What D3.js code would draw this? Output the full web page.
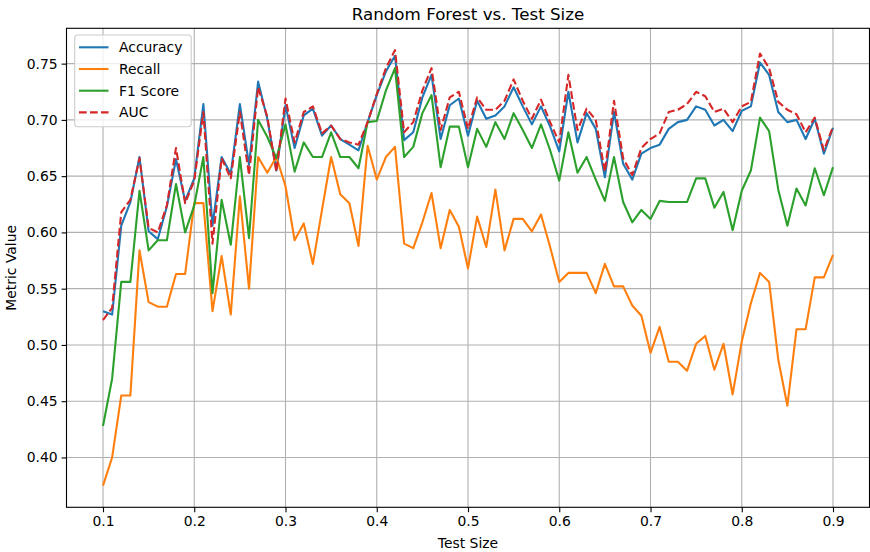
<!DOCTYPE html>
<html>
<head>
<meta charset="utf-8">
<script src="https://cdn.jsdelivr.net/npm/d3@7"></script>
<style>
  body { margin: 0; background: #fff; }
  text { font-family: "DejaVu Sans", sans-serif; fill: #000; }
</style>
</head>
<body>
<div id="chart"></div>
<script>
// test sizes 0.10 .. 0.90, step 0.01
const testSizes = d3.range(81).map(i => +(0.10 + i * 0.01).toFixed(2))

const accuracy = [
  0.530,0.527,0.606,0.627,0.667,0.601,0.594,0.623,0.665,0.628,
  0.648,0.714,0.606,0.667,0.652,0.714,0.660,0.734,0.701,0.655,
  0.713,0.675,0.704,0.710,0.686,0.695,0.683,0.678,0.673,0.698,
  0.722,0.743,0.757,0.682,0.689,0.720,0.740,0.683,0.713,0.719,
  0.686,0.717,0.701,0.704,0.712,0.729,0.712,0.696,0.712,0.694,
  0.672,0.725,0.680,0.706,0.692,0.649,0.707,0.661,0.647,0.670,
  0.675,0.678,0.692,0.698,0.700,0.712,0.709,0.695,0.700,0.690,
  0.708,0.712,0.751,0.740,0.707,0.698,0.700,0.683,0.701,0.670,
  0.693
]
const recall = [
  0.375,0.400,0.455,0.455,0.584,0.538,0.534,0.534,0.563,0.563,
  0.626,0.626,0.530,0.579,0.527,0.632,0.550,0.667,0.653,0.667,
  0.641,0.593,0.608,0.572,0.620,0.667,0.634,0.626,0.588,0.677,
  0.647,0.667,0.676,0.590,0.586,0.609,0.635,0.586,0.620,0.605,
  0.568,0.614,0.587,0.638,0.584,0.612,0.612,0.601,0.616,0.587,
  0.556,0.564,0.564,0.564,0.546,0.572,0.552,0.552,0.535,0.526,
  0.493,0.516,0.485,0.485,0.477,0.501,0.508,0.478,0.501,0.456,
  0.503,0.537,0.564,0.556,0.487,0.446,0.514,0.514,0.560,0.560,
  0.580
]
const f1 = [
  0.428,0.470,0.556,0.556,0.637,0.584,0.593,0.593,0.643,0.600,
  0.624,0.667,0.546,0.629,0.589,0.667,0.595,0.700,0.685,0.666,
  0.696,0.654,0.680,0.667,0.667,0.689,0.667,0.667,0.657,0.698,
  0.699,0.726,0.746,0.667,0.676,0.706,0.722,0.658,0.694,0.694,
  0.658,0.692,0.676,0.698,0.683,0.706,0.691,0.675,0.696,0.673,
  0.646,0.689,0.653,0.667,0.647,0.628,0.667,0.627,0.609,0.620,
  0.612,0.628,0.627,0.627,0.627,0.648,0.648,0.622,0.636,0.602,
  0.637,0.655,0.702,0.690,0.638,0.606,0.639,0.624,0.657,0.633,
  0.658
]
const auc = [
  0.522,0.533,0.618,0.629,0.666,0.604,0.600,0.624,0.675,0.626,
  0.646,0.707,0.590,0.666,0.648,0.707,0.651,0.729,0.703,0.654,
  0.719,0.680,0.707,0.712,0.688,0.695,0.683,0.680,0.678,0.698,
  0.723,0.746,0.762,0.689,0.698,0.726,0.746,0.691,0.720,0.725,
  0.692,0.720,0.709,0.709,0.717,0.736,0.717,0.701,0.718,0.698,
  0.680,0.740,0.691,0.710,0.700,0.654,0.717,0.666,0.651,0.675,
  0.683,0.688,0.707,0.709,0.714,0.725,0.721,0.707,0.710,0.698,
  0.712,0.716,0.759,0.746,0.716,0.709,0.705,0.689,0.702,0.673,
  0.694
]

const xTicks = [0.1,0.2,0.3,0.4,0.5,0.6,0.7,0.8,0.9]
const yTicks = [0.40,0.45,0.50,0.55,0.60,0.65,0.70,0.75]

const series = [
  {name:'Accuracy', values:accuracy, color:'#1f77b4', dash:null},
  {name:'Recall', values:recall, color:'#ff7f0e', dash:null},
  {name:'F1 Score', values:f1, color:'#2ca02c', dash:null},
  {name:'AUC', values:auc, color:'#d62728', dash:'7.7,3.3'}
]

init()

function init(){
    const W = 870, H = 552
    const left = 66.5, right = 869.5, top = 28.3, bottom = 507.3

    let svg = d3.select('#chart')
                .append('svg')
                .attr('width',W)
                .attr('height',H)

    const x = d3.scaleLinear().domain([0.06,0.94]).range([left,right])
    const y = d3.scaleLinear().domain([0.3557,0.7814]).range([bottom,top])

    // grid
    let grid = svg.append('g')
    grid.selectAll('line.vx').data(xTicks).enter().append('line')
        .attr('x1',d=>x(d)).attr('x2',d=>x(d))
        .attr('y1',top).attr('y2',bottom)
        .style('stroke','#b0b0b0').style('stroke-width',1.1)
    grid.selectAll('line.hy').data(yTicks).enter().append('line')
        .attr('x1',left).attr('x2',right)
        .attr('y1',d=>y(d)).attr('y2',d=>y(d))
        .style('stroke','#b0b0b0').style('stroke-width',1.1)

    // lines
    const line = d3.line()
        .x((d,i)=>x(testSizes[i]))
        .y(d=>y(d))

    series.forEach(s=>{
        svg.append('path')
            .datum(s.values)
            .attr('d',line)
            .style('fill','none')
            .style('stroke',s.color)
            .style('stroke-width',2.1)
            .style('stroke-linejoin','round')
            .style('stroke-dasharray',s.dash)
    })

    // axes
    let xAxis = svg.append('g')
        .attr('transform',`translate(0,${bottom})`)
        .call(d3.axisBottom(x).tickValues(xTicks).tickFormat(d3.format('.1f')).tickSize(4.9).tickPadding(4))
    let yAxis = svg.append('g')
        .attr('transform',`translate(${left},0)`)
        .call(d3.axisLeft(y).tickValues(yTicks).tickFormat(d3.format('.2f')).tickSize(4.9).tickPadding(4))

    ;[xAxis,yAxis].forEach(a=>{
        a.select('.domain').remove()
        a.selectAll('line').style('stroke','#000').style('stroke-width',1.1)
        a.selectAll('text').style('font-size','13.9px').style('font-family','DejaVu Sans')
    })

    // frame
    svg.append('rect')
        .attr('x',left).attr('y',top)
        .attr('width',right-left).attr('height',bottom-top)
        .style('fill','none').style('stroke','#000').style('stroke-width',1.1)

    // titles
    svg.append('text')
        .attr('x',(left+right)/2).attr('y',20)
        .attr('text-anchor','middle')
        .style('font-size','16.7px')
        .text('Random Forest vs. Test Size')

    svg.append('text')
        .attr('x',(left+right)/2).attr('y',548)
        .attr('text-anchor','middle')
        .style('font-size','13.9px')
        .text('Test Size')

    svg.append('text')
        .attr('transform',`translate(16,${(top+bottom)/2}) rotate(-90)`)
        .attr('text-anchor','middle')
        .style('font-size','13.9px')
        .text('Metric Value')

    // legend
    let legend = svg.append('g')
    legend.append('rect')
        .attr('x',74.7).attr('y',35)
        .attr('width',116.5).attr('height',91.7)
        .attr('rx',3)
        .style('fill','#fff').style('fill-opacity',0.8)
        .style('stroke','#cccccc').style('stroke-width',1.1)

    series.forEach((s,i)=>{
        const ly = 47.3 + i*21.7
        legend.append('line')
            .attr('x1',79).attr('x2',108.5)
            .attr('y1',ly).attr('y2',ly)
            .style('stroke',s.color).style('stroke-width',2.1)
            .style('stroke-dasharray',s.dash)
        legend.append('text')
            .attr('x',119).attr('y',ly+5)
            .style('font-size','13.9px')
            .text(s.name)
    })
}
</script>
</body>
</html>
